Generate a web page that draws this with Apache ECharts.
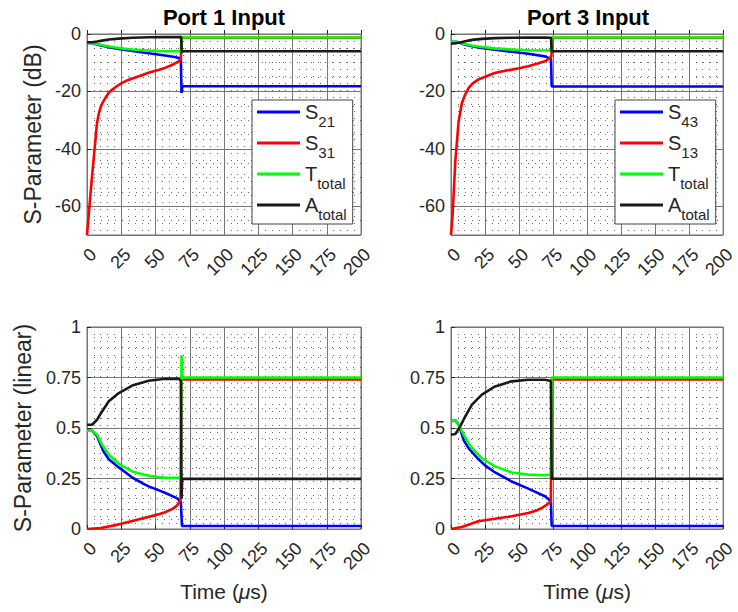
<!DOCTYPE html>
<html><head><meta charset="utf-8">
<script src="https://cdn.jsdelivr.net/npm/echarts@6/dist/echarts.min.js"></script>
<style>html,body{margin:0;padding:0;background:#fff}#c{width:738px;height:612px}</style>
</head><body><div id="c"></div>
<script>
// ---------- data (time in microseconds) ----------
const xTickLabels = [0, 25, 50, 75, 100, 125, 150, 175, 200];
const dBTickLabels = [0, -20, -40, -60];
const linTickLabels = [0, 0.25, 0.5, 0.75, 1];

// Port 1 input, dB
const p1dB_S21 = [[0,-3.1],[4,-3.2],[8,-3.7],[12,-4.2],[16,-4.6],[23,-5.2],[33,-5.9],[45,-6.7],[57,-7.5],[64,-8.0],[68.5,-8.5],[69,-20.5],[69.6,-18.2],[200,-18.2]];
const p1dB_S31 = [[0,-70],[3.4,-51],[7.3,-31],[8.5,-28],[9.8,-25.7],[11.5,-23.8],[13.4,-22.3],[16,-20.4],[18.3,-19.4],[22,-18.1],[25.6,-17],[30,-16],[37.8,-14.7],[46,-13.3],[52,-12.5],[57,-11.8],[62,-10.8],[66,-9.8],[68.5,-8.8],[69,-1.3],[200,-1.3]];
const p1dB_T = [[0,-3.1],[4,-3.1],[8.5,-3.6],[14,-4.2],[20.7,-4.7],[27,-5.1],[33,-5.4],[45,-5.8],[57,-6.0],[68.5,-6.0],[69,-0.7],[69.5,-1.2],[200,-1.2]];
const p1dB_A = [[0,-2.85],[3.7,-2.85],[7.3,-2.6],[11,-2.3],[16,-1.9],[23,-1.6],[33,-1.3],[45,-1.15],[57,-1.1],[68.7,-1.1],[69.2,-6.5],[69.6,-6.0],[200,-6.0]];

// Port 3 input, dB
const p3dB_S43 = [[0,-2.8],[3.2,-2.75],[5.6,-2.9],[9.3,-3.6],[12.9,-4.0],[20,-4.7],[25,-5.0],[32.4,-5.5],[44.6,-6.2],[56.8,-6.9],[69,-7.8],[73.5,-8.7],[74,-18.3],[200,-18.3]];
const p3dB_S13 = [[0,-70],[1.2,-62.8],[3.2,-44],[5.6,-30.4],[8,-24],[10.5,-21],[13,-18.8],[16,-17.2],[20,-15.9],[26,-14.7],[32,-13.6],[38,-13],[44.6,-12.4],[50,-11.9],[56.8,-11.2],[63,-10.4],[69,-9.5],[72,-8.7],[73.8,-7.8],[74.2,-1.3],[200,-1.3]];
const p3dB_T = [[0,-2.75],[3.2,-2.7],[5.6,-2.9],[9.3,-3.4],[15.4,-4.0],[22.7,-4.5],[32.4,-5.0],[44.6,-5.4],[56.8,-5.65],[69,-5.75],[73.5,-5.7],[74,-1.2],[200,-1.2]];
const p3dB_A = [[0,-3.3],[3.2,-3.25],[6.8,-2.95],[10.5,-2.5],[15.4,-2.05],[22.7,-1.7],[32.4,-1.45],[44.6,-1.3],[56.8,-1.25],[69,-1.25],[73.5,-1.3],[74,-6.0],[200,-6.0]];

// Port 1 input, linear
const p1Lin_S21 = [[0,0.487],[3.7,0.487],[7.3,0.46],[9.5,0.425],[12,0.385],[15.9,0.345],[19,0.328],[23.2,0.305],[28.7,0.277],[33,0.255],[41,0.225],[45,0.211],[53,0.19],[57.3,0.178],[65.5,0.153],[68.5,0.135],[69.3,0.015],[200,0.015]];
const p1Lin_S31 = [[0,0],[10,0.005],[20,0.018],[25,0.026],[33,0.04],[41,0.053],[45,0.06],[53,0.074],[57,0.083],[63,0.102],[66,0.118],[68.3,0.145],[69,0.74],[200,0.74]];
const p1Lin_T = [[0,0.487],[3.7,0.487],[7.3,0.467],[11,0.417],[15.9,0.368],[23.2,0.323],[33,0.285],[45,0.264],[57.3,0.254],[67,0.254],[68.5,0.26],[69,0.86],[69.6,0.75],[200,0.75]];
const p1Lin_A = [[0,0.516],[3.7,0.516],[7.3,0.541],[11,0.582],[15.9,0.632],[23.2,0.673],[33,0.71],[45,0.734],[57.3,0.744],[67,0.743],[68.5,0.735],[69,0.15],[69.5,0.248],[200,0.248]];

// Port 3 input, linear
const p3Lin_S43 = [[0,0.533],[3.2,0.538],[5.6,0.516],[7.5,0.48],[9.3,0.44],[12.9,0.40],[20.2,0.345],[25,0.315],[32.4,0.28],[44.6,0.235],[56.8,0.2],[69,0.162],[73.4,0.137],[74,0.015],[200,0.015]];
const p3Lin_S13 = [[0,0],[8,0.01],[20,0.038],[32.4,0.051],[44.6,0.063],[56.8,0.079],[63,0.092],[66.6,0.104],[70,0.118],[73.4,0.137],[74,0.74],[200,0.74]];
const p3Lin_T = [[0,0.533],[3.2,0.538],[5.6,0.516],[9.3,0.467],[12.9,0.425],[15.4,0.401],[22.7,0.35],[32.4,0.31],[44.6,0.28],[56.8,0.269],[69,0.266],[73.5,0.27],[74,0.75],[200,0.75]];
const p3Lin_A = [[0,0.467],[3.2,0.47],[6.8,0.508],[10.5,0.558],[15.4,0.616],[22.7,0.665],[32.4,0.706],[44.6,0.731],[56.8,0.739],[69,0.739],[73.4,0.733],[74,0.249],[200,0.249]];

// ---------- styling ----------
const FONT = '"Liberation Sans", Arial, Helvetica, sans-serif';
const TXT = '#262626';
const C = { blue: '#0000ff', red: '#ff0000', green: '#00ff00', black: '#1a1a1a' };

const grids = [
  { left: 87, top: 34, width: 274, height: 201 },
  { left: 451, top: 34, width: 273, height: 201 },
  { left: 87, top: 327, width: 274, height: 202 },
  { left: 451, top: 327, width: 273, height: 202 }
].map(g => Object.assign(g, { show: true, borderColor: '#6e6e6e', borderWidth: 1, backgroundColor: 'transparent' }));

const majorSplit = { show: true, lineStyle: { color: '#767676', width: 1 } };
const minorSplit = { show: true, lineStyle: { color: '#303030', width: 1, type: [1, 6], opacity: 0.7 } };

function mainX(g, named) {
  return {
    gridIndex: g, type: 'value', min: 0, max: 200, interval: 25, z: 3,
    axisLine: { show: false },
    axisTick: { show: true, inside: true, length: 4, lineStyle: { color: TXT } },
    axisLabel: {
      rotate: 45, align: 'right', verticalAlign: 'top', margin: 10,
      fontSize: 18, color: TXT, fontFamily: FONT,
      showMinLabel: true, showMaxLabel: true,
      formatter: v => xTickLabels.includes(v) ? String(v) : ''
    },
    splitLine: majorSplit,
    name: named ? '{n|Time (}{i|μ}{n|s)}' : '',
    nameLocation: 'middle', nameGap: 52,
    nameTextStyle: {
      rich: {
        n: { fontSize: 21, fontFamily: FONT, color: TXT },
        i: { fontSize: 21, fontFamily: FONT, color: TXT, fontStyle: 'italic' }
      }
    }
  };
}
function minorX(g) {
  return {
    gridIndex: g, type: 'value', min: 0, max: 200, interval: 5, z: 1, position: 'bottom',
    axisLine: { show: false }, axisTick: { show: false }, axisLabel: { show: false },
    splitLine: minorSplit
  };
}
function mainYdB(g, named) {
  return {
    gridIndex: g, type: 'value', min: -70, max: 0, splitNumber: 4, z: 3,
    axisLine: { show: false },
    axisTick: { show: true, inside: true, length: 4, lineStyle: { color: TXT } },
    axisLabel: {
      fontSize: 18, color: TXT, fontFamily: FONT, margin: 6,
      showMinLabel: false,
      formatter: v => dBTickLabels.includes(v) ? String(v) : ''
    },
    splitLine: majorSplit,
    name: named ? 'S-Parameter (dB)' : '',
    nameLocation: 'middle', nameGap: 43,
    nameTextStyle: { fontSize: 23, fontFamily: FONT, color: TXT }
  };
}
function mainYLin(g, named) {
  return {
    gridIndex: g, type: 'value', min: 0, max: 1, interval: 0.25, z: 3,
    axisLine: { show: false },
    axisTick: { show: true, inside: true, length: 4, lineStyle: { color: TXT } },
    axisLabel: {
      fontSize: 18, color: TXT, fontFamily: FONT, margin: 6,
      showMinLabel: true, showMaxLabel: true,
      formatter: v => linTickLabels.includes(v) ? String(v) : ''
    },
    splitLine: majorSplit,
    name: named ? 'S-Parameter (linear)' : '',
    nameLocation: 'middle', nameGap: 53,
    nameTextStyle: { fontSize: 23, fontFamily: FONT, color: TXT }
  };
}
function minorY(g, min, max, step) {
  return {
    gridIndex: g, type: 'value', min: min, max: max, interval: step, z: 1, position: 'left',
    axisLine: { show: false }, axisTick: { show: false }, axisLabel: { show: false },
    splitLine: minorSplit
  };
}

function line(name, data, color, g) {
  return {
    type: 'line', name: name, data: data, xAxisIndex: g, yAxisIndex: g,
    showSymbol: false, symbol: 'none', clip: true, z: 5,
    lineStyle: { color: color, width: 2.6 },
    itemStyle: { color: color },
    emphasis: { disabled: true }
  };
}

const legendLabels = {
  S21: '{m|S}{s|21}', S31: '{m|S}{s|31}', S43: '{m|S}{s|43}', S13: '{m|S}{s|13}',
  Ttotal: '{m|T}{s|total}', Atotal: '{m|A}{s|total}'
};
function legend(left, names) {
  return {
    orient: 'vertical', left: left, top: 100, data: names,
    icon: 'rect', itemWidth: 43, itemHeight: 3, itemGap: 4,
    padding: [2, 6, 2, 5],
    backgroundColor: '#ffffff', borderColor: '#444444', borderWidth: 1, borderRadius: 0,
    selectedMode: false,
    formatter: n => legendLabels[n],
    textStyle: {
      rich: {
        m: { fontSize: 20, lineHeight: 34, fontFamily: FONT, color: TXT },
        s: { fontSize: 15, lineHeight: 15, verticalAlign: 'bottom', fontFamily: FONT, color: TXT }
      }
    }
  };
}

const option = {
  animation: false,
  backgroundColor: '#ffffff',
  title: [
    { text: 'Port 1 Input', left: 224, top: 6, textAlign: 'center', padding: 0,
      textStyle: { fontSize: 22, fontWeight: 'bold', fontFamily: FONT, color: '#000' } },
    { text: 'Port 3 Input', left: 588, top: 6, textAlign: 'center', padding: 0,
      textStyle: { fontSize: 22, fontWeight: 'bold', fontFamily: FONT, color: '#000' } }
  ],
  grid: grids,
  xAxis: [mainX(0, false), mainX(1, false), mainX(2, true), mainX(3, true),
          minorX(0), minorX(1), minorX(2), minorX(3)],
  yAxis: [mainYdB(0, true), mainYdB(1, false), mainYLin(2, true), mainYLin(3, false),
          minorY(0, -70, 0, 5), minorY(1, -70, 0, 5), minorY(2, 0, 1, 0.05), minorY(3, 0, 1, 0.05)],
  legend: [
    legend(252, ['S21', 'S31', 'Ttotal', 'Atotal']),
    legend(615, ['S43', 'S13', 'Ttotal', 'Atotal'])
  ],
  series: [
    line('S21', p1dB_S21, C.blue, 0), line('S31', p1dB_S31, C.red, 0),
    line('Ttotal', p1dB_T, C.green, 0), line('Atotal', p1dB_A, C.black, 0),
    line('S43', p3dB_S43, C.blue, 1), line('S13', p3dB_S13, C.red, 1),
    line('Ttotal', p3dB_T, C.green, 1), line('Atotal', p3dB_A, C.black, 1),
    line('S21', p1Lin_S21, C.blue, 2), line('S31', p1Lin_S31, C.red, 2),
    line('Ttotal', p1Lin_T, C.green, 2), line('Atotal', p1Lin_A, C.black, 2),
    line('S43', p3Lin_S43, C.blue, 3), line('S13', p3Lin_S13, C.red, 3),
    line('Ttotal', p3Lin_T, C.green, 3), line('Atotal', p3Lin_A, C.black, 3)
  ]
};

const chart = echarts.init(document.getElementById('c'), null, { renderer: 'svg' });
chart.setOption(option);
</script>
</body></html>
